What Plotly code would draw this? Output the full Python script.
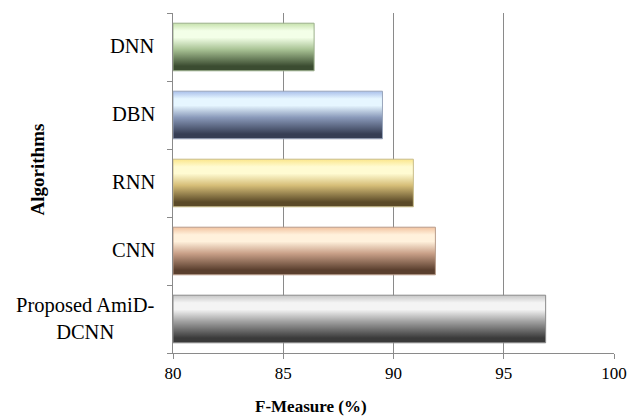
import plotly.graph_objects as go

# Algorithms listed bottom-to-top along the category axis
algorithms = ["Proposed AmiD-<br>DCNN", "CNN", "RNN", "DBN", "DNN"]
f_measure = [96.9, 91.9, 90.9, 89.5, 86.4]
x_ticks = [80, 85, 90, 95, 100]
x_min, x_max = 80, 100

# Cylinder-like vertical shading for each bar: (bottom, mid, highlight, top)
shades = [
    ("#3a3a3a", "#a2a2a2", "#f4f4f4", "#c6c6c6"),
    ("#5a3f2e", "#c9a088", "#fff1dc", "#f2c3a0"),
    ("#5b4a28", "#d6be78", "#fffbd2", "#fbe68a"),
    ("#363e54", "#8a9aba", "#e6f6ff", "#a9bfea"),
    ("#3b4c31", "#a9c395", "#f3ffe8", "#c6e1ac"),
]
edge_colors = ["#8a8a8a", "#b89c8a", "#c8bc8a", "#9aa6bc", "#9cb08c"]

half = 0.35
serif = "Liberation Serif, Times New Roman, serif"

fig = go.Figure()
for i, (val, (dark, mid, hi, top)) in enumerate(zip(f_measure, shades)):
    y0, y1 = i - half, i + half
    fig.add_trace(go.Scatter(
        x=[x_min, val, val, x_min, x_min],
        y=[y0, y0, y1, y1, y0],
        mode="lines",
        fill="toself",
        line=dict(color=edge_colors[i], width=1),
        fillgradient=dict(
            type="vertical",
            colorscale=[[0.0, dark], [0.1, dark], [0.45, mid],
                        [0.7, hi], [0.84, hi], [1.0, top]],
        ),
        hoverinfo="skip",
        showlegend=False,
    ))

# Category labels, centred line by line to the left of the axis
for i, name in enumerate(algorithms):
    fig.add_annotation(
        x=0, xref="paper", y=i, yref="y",
        xanchor="right", yanchor="middle", xshift=-16, yshift=1,
        text=name, showarrow=False, align="center",
        font=dict(family=serif, size=20.5, color="black"),
    )

# Axis titles
fig.add_annotation(
    x=(314 - 173) / 449, xref="paper", y=-54 / 340, yref="paper",
    text="<b>F-Measure (%)</b>", showarrow=False,
    xanchor="center", yanchor="middle",
    font=dict(family=serif, size=17, color="black"),
)
fig.add_annotation(
    x=(35 - 173) / 449, xref="paper", y=(353 - 169) / 340, yref="paper",
    text="<b>Algorithms</b>", textangle=-90, showarrow=False,
    xanchor="center", yanchor="middle",
    font=dict(family=serif, size=19, color="black"),
)

fig.update_xaxes(
    range=[x_min, x_max], tickvals=x_ticks, ticks="outside", ticklen=5,
    tickcolor="#8a8a8a", showline=True, linecolor="#8a8a8a", linewidth=1,
    showgrid=True, gridcolor="#8a8a8a", gridwidth=1, zeroline=False,
    tickfont=dict(family=serif, size=17, color="black"),
)
fig.update_yaxes(
    range=[-0.5, len(algorithms) - 0.5], tickvals=[], showgrid=False,
    zeroline=False, showline=True, linecolor="#8a8a8a", linewidth=1,
    minor=dict(tickvals=[k - 0.5 for k in range(len(algorithms) + 1)],
               ticks="outside", ticklen=5, tickcolor="#8a8a8a", showgrid=False),
)
fig.update_layout(
    width=639, height=420,
    margin=dict(l=173, r=17, t=13, b=67),
    paper_bgcolor="white", plot_bgcolor="white",
)
fig.write_html("out.html")
